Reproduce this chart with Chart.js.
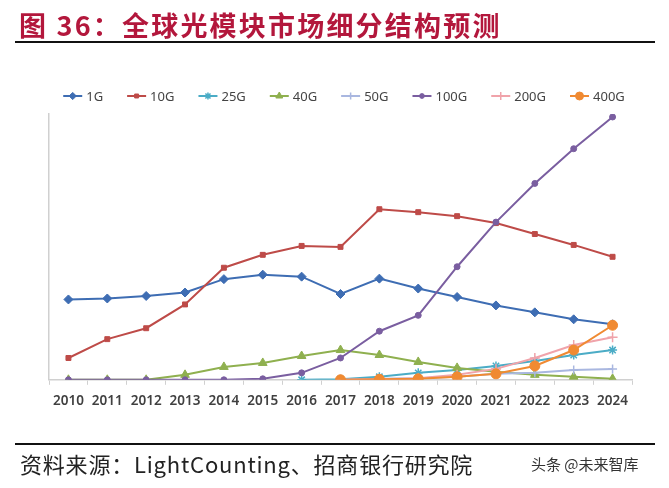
<!DOCTYPE html>
<html>
<head>
<meta charset="utf-8">
<script src="https://cdn.jsdelivr.net/npm/chart.js@4.4.0/dist/chart.umd.min.js"></script>
<style>
  body { margin: 0; background: #fff; }
  #wrap { position: relative; width: 669px; height: 488px; overflow: hidden; }
  #chart { position: absolute; left: 0; top: 0; }
  .title { position: absolute; left: 19px; top: 5px; font: bold 27px "Noto Sans CJK SC", sans-serif; color: #b3173c; letter-spacing: 2.2px; white-space: nowrap; }
  .rule { position: absolute; left: 15px; width: 640px; height: 2px; background: #111; }
  .source { position: absolute; left: 20px; top: 447px; font: 22px "Noto Sans CJK SC", sans-serif; color: #222; letter-spacing: 0.8px; white-space: nowrap; }
  .mark { position: absolute; left: 531px; top: 453px; font: 15px "Noto Sans CJK SC", sans-serif; color: #333; white-space: nowrap; }
</style>
</head>
<body>
<div id="wrap">
  <canvas id="chart" width="669" height="488"></canvas>
  <div class="title">图 36：全球光模块市场细分结构预测</div>
  <div class="rule" style="top:41px"></div>
  <div class="rule" style="top:443px"></div>
  <div class="source">资料来源：LightCounting、招商银行研究院</div>
  <div class="mark">头条 @未来智库</div>
</div>
<script>
const years = ['2010', '2011', '2012', '2013', '2014', '2015', '2016', '2017', '2018', '2019', '2020', '2021', '2022', '2023', '2024'];

const g1 = [81, 82, 84.5, 88, 101.5, 106, 104, 86.5, 102, 92, 83.5, 75, 68, 61, 56];
const g10 = [22, 41, 52, 76, 113, 126, 135, 134, 172, 169, 165, 158, 147, 136, 124];
const g25 = [null, null, null, null, null, null, 0, 0.5, 3, 7, 10, 14, 19, 25, 30];
const g40 = [0, 0, 0, 5, 13, 17, 24, 30, 25, 18, 12, 8, 5, 3, 1];
const g50 = [null, null, null, null, null, null, null, 0, 1, 1.5, 3, 6, 7, 10, 11];
const g100 = [0, 0, 0, 0, 0, 1, 7, 22, 49, 65, 114, 159, 198, 233, 265];
const g200 = [null, null, null, null, null, null, null, 0, 0.5, 1.5, 5, 11, 22, 35, 43];
const g400 = [null, null, null, null, null, null, null, 0, 0.5, 1, 3, 6, 14, 30, 55];

const series = [
  { label: '1G', data: g1, color: '#3e6db3', style: 'rectRot', r: 4.5 },
  { label: '10G', data: g10, color: '#be4b48', style: 'rect', r: 3.5 },
  { label: '25G', data: g25, color: '#4bacc6', style: 'star', r: 4.5 },
  { label: '40G', data: g40, color: '#8fb04f', style: 'triangle', r: 5 },
  { label: '50G', data: g50, color: '#a9b7e0', style: 'cross', r: 4.5 },
  { label: '100G', data: g100, color: '#7a5ea0', style: 'circle', r: 3 },
  { label: '200G', data: g200, color: '#f0a3aa', style: 'cross', r: 5 },
  { label: '400G', data: g400, color: '#f08a32', style: 'circle', r: 5 },
];

// legend drawn by hand: line with marker through it, like the original
const legendPlugin = {
  id: 'lineLegend',
  afterDraw(chart) {
    const ctx = chart.ctx;
    ctx.save();
    ctx.font = '13px "Noto Sans", sans-serif';
    const lineLen = 19, gap = 4, spacing = 24;
    const widths = series.map(s => lineLen + gap + ctx.measureText(s.label).width);
    const total = widths.reduce((a, b) => a + b, 0) + spacing * (series.length - 1);
    let x = 344 - total / 2;
    const y = 96;
    chart.data.datasets.forEach((ds, i) => {
      ctx.strokeStyle = ds.borderColor;
      ctx.fillStyle = ds.backgroundColor;
      ctx.lineWidth = 2;
      ctx.beginPath();
      ctx.moveTo(x, y);
      ctx.lineTo(x + lineLen, y);
      ctx.stroke();
      ctx.lineWidth = ds.pointBorderWidth;
      Chart.helpers.drawPoint(ctx, {
        pointStyle: ds.pointStyle, radius: ds.pointRadius * 0.8, borderWidth: ds.pointBorderWidth
      }, x + lineLen / 2, y);
      ctx.fillStyle = '#444';
      ctx.textBaseline = 'middle';
      ctx.fillText(ds.label, x + lineLen + gap, y + 1);
      x += widths[i] + spacing;
    });
    ctx.restore();
  }
};

new Chart(document.getElementById('chart'), {
  type: 'line',
  data: {
    labels: years,
    datasets: series.map((s, i) => ({
      label: s.label,
      data: s.data,
      borderColor: s.color,
      backgroundColor: s.color,
      pointBackgroundColor: s.color,
      pointBorderColor: s.color,
      pointStyle: s.style,
      pointRadius: s.r,
      pointBorderWidth: (s.style === 'cross' || s.style === 'star') ? 1.5 : 1,
      borderWidth: 2,
      tension: 0,
      fill: false,
      spanGaps: false,
      order: series.length - i,
    }))
  },
  options: {
    responsive: false,
    animation: false,
    events: [],
    layout: { padding: { left: 49, right: 37, top: 114, bottom: 71 } },
    plugins: { legend: { display: false }, tooltip: { enabled: false } },
    scales: {
      x: {
        offset: true,
        grid: { display: true, drawOnChartArea: false, drawTicks: true, tickLength: 5, color: '#d0d0d0', offset: true },
        border: { color: '#d0d0d0', width: 1.5 },
        ticks: { color: '#404040', font: { family: '"Noto Sans"', size: 13.5, weight: '600' }, padding: 8, maxRotation: 0, autoSkip: false }
      },
      y: {
        min: 0,
        max: 268,
        ticks: { display: false },
        grid: { display: false, drawTicks: false },
        border: { color: '#d0d0d0', width: 1.5 }
      }
    }
  },
  plugins: [legendPlugin]
});
</script>
</body>
</html>
